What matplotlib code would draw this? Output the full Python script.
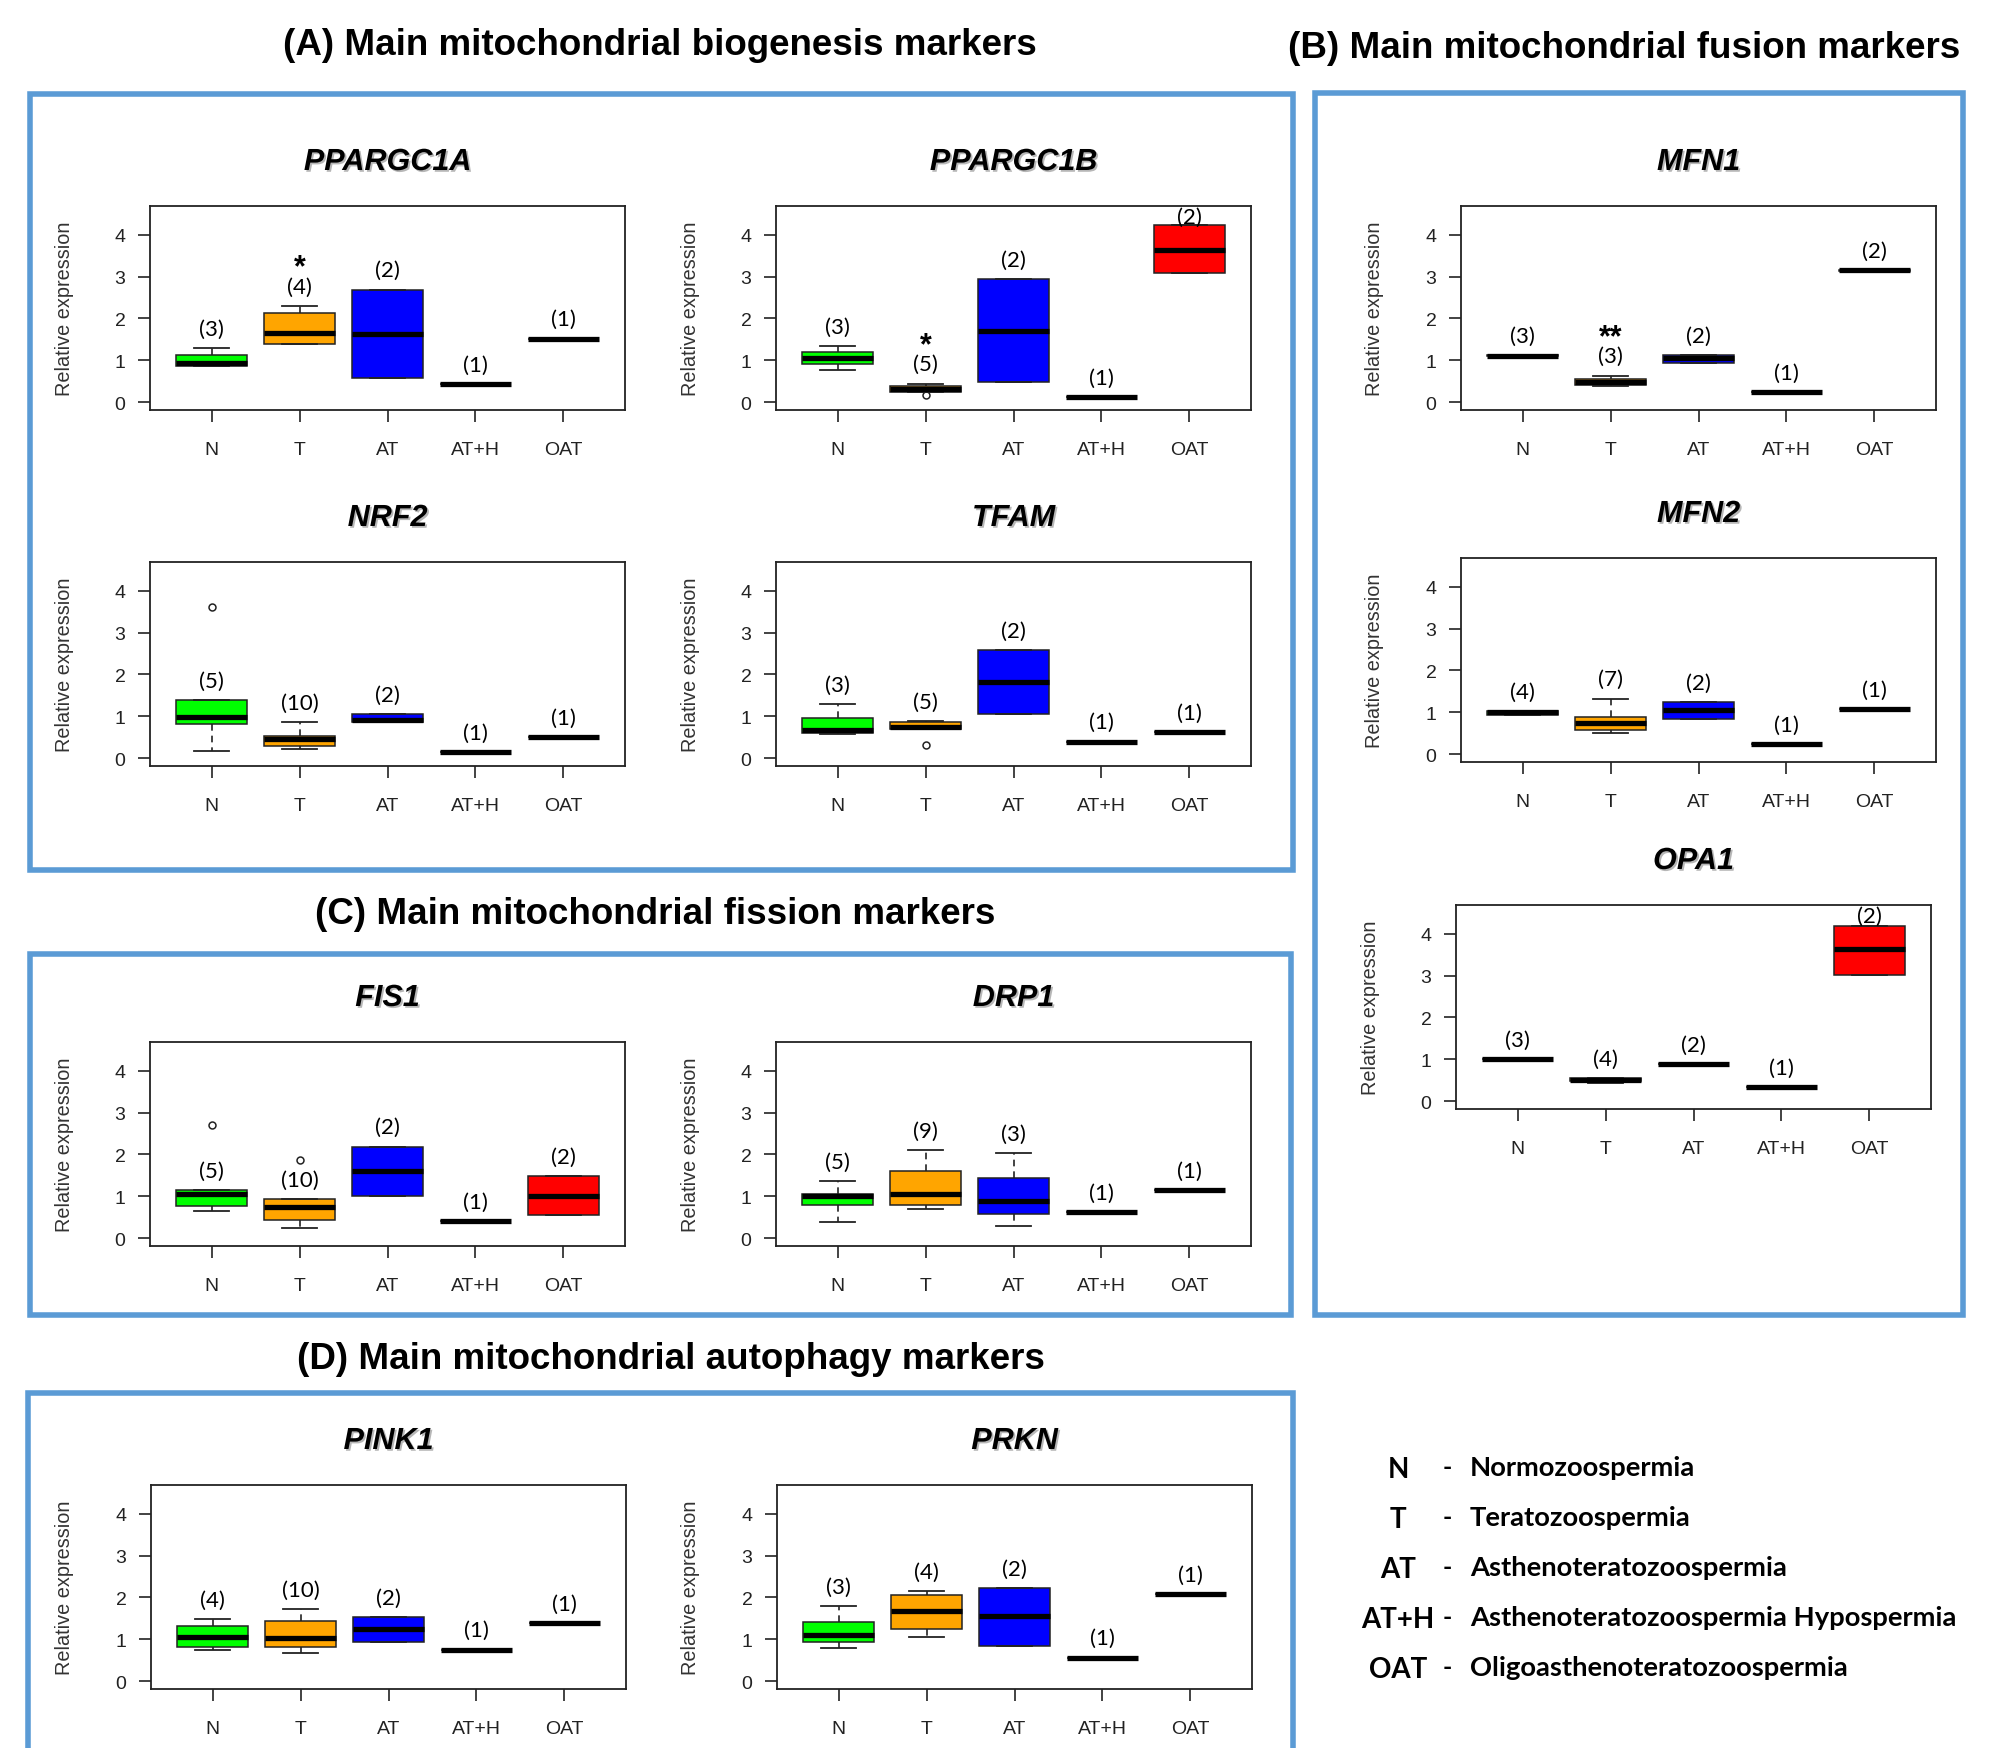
import matplotlib
matplotlib.use("Agg")
import matplotlib.pyplot as plt
from matplotlib.patches import Rectangle
import matplotlib.patheffects as pe

plt.rcParams['font.family'] = ['Liberation Sans', 'DejaVu Sans']

W, H, DPI = 2009, 1749, 100

# ---------------- data ----------------
GROUPS = ["N", "T", "AT", "AT+H", "OAT"]
GROUP_NAMES = ["Normozoospermia", "Teratozoospermia", "Asthenoteratozoospermia",
               "Asthenoteratozoospermia Hypospermia", "Oligoasthenoteratozoospermia"]
COLORS = ["#00FF00", "#FFA500", "#0000FF", "#FFFFFF", "#FF0000"]

# (whisker low, Q1, median, Q3, whisker high) per group
PPARGC1A = [(0.87, 0.88, 0.93, 1.12, 1.29), (1.40, 1.40, 1.66, 2.12, 2.30),
            (0.59, 0.59, 1.64, 2.69, 2.69), (0.44, 0.44, 0.44, 0.44, 0.44),
            (1.52, 1.52, 1.52, 1.52, 1.52)]
PPARGC1B = [(0.78, 0.92, 1.07, 1.19, 1.34), (0.24, 0.24, 0.32, 0.38, 0.45),
            (0.48, 0.48, 1.71, 2.93, 2.93), (0.12, 0.12, 0.12, 0.12, 0.12),
            (3.08, 3.08, 3.63, 4.23, 4.23)]
MFN1 = [(1.10, 1.10, 1.11, 1.12, 1.12), (0.40, 0.42, 0.49, 0.56, 0.64),
        (0.93, 0.93, 1.05, 1.12, 1.12), (0.255, 0.255, 0.255, 0.255, 0.255),
        (3.14, 3.14, 3.15, 3.16, 3.16)]
NRF2 = [(0.18, 0.82, 0.98, 1.40, 1.40), (0.23, 0.30, 0.47, 0.54, 0.86),
        (0.86, 0.86, 0.915, 1.06, 1.06), (0.16, 0.16, 0.16, 0.16, 0.16),
        (0.50, 0.50, 0.50, 0.50, 0.50)]
TFAM = [(0.59, 0.61, 0.68, 0.97, 1.30), (0.71, 0.71, 0.755, 0.867, 0.89),
        (1.07, 1.07, 1.83, 2.58, 2.58), (0.40, 0.40, 0.40, 0.40, 0.40),
        (0.63, 0.63, 0.63, 0.63, 0.63)]
MFN2 = [(0.93, 0.95, 1.00, 1.04, 1.04), (0.51, 0.587, 0.738, 0.889, 1.33),
        (0.84, 0.84, 1.047, 1.238, 1.238), (0.254, 0.254, 0.254, 0.254, 0.254),
        (1.08, 1.08, 1.08, 1.08, 1.08)]
OPA1 = [(1.01, 1.01, 1.01, 1.01, 1.01), (0.44, 0.48, 0.52, 0.56, 0.56),
        (0.89, 0.89, 0.89, 0.89, 0.89), (0.337, 0.337, 0.337, 0.337, 0.337),
        (3.02, 3.02, 3.62, 4.18, 4.18)]
FIS1 = [(0.644, 0.78, 1.05, 1.16, 1.16), (0.26, 0.445, 0.755, 0.938, 0.938),
        (1.00, 1.00, 1.61, 2.19, 2.19), (0.41, 0.41, 0.41, 0.41, 0.41),
        (0.557, 0.557, 1.00, 1.495, 1.495)]
DRP1 = [(0.40, 0.806, 1.006, 1.07, 1.37), (0.70, 0.806, 1.07, 1.60, 2.11),
        (0.287, 0.575, 0.894, 1.44, 2.04), (0.62, 0.62, 0.62, 0.62, 0.62),
        (1.15, 1.15, 1.15, 1.15, 1.15)]
PINK1 = [(0.76, 0.83, 1.05, 1.31, 1.49), (0.68, 0.83, 1.046, 1.43, 1.72),
         (0.934, 0.934, 1.245, 1.53, 1.53), (0.76, 0.76, 0.76, 0.76, 0.76),
         (1.39, 1.39, 1.39, 1.39, 1.39)]
PRKN = [(0.79, 0.93, 1.10, 1.42, 1.79), (1.06, 1.26, 1.69, 2.05, 2.16),
        (0.85, 0.85, 1.57, 2.23, 2.23), (0.57, 0.57, 0.57, 0.57, 0.57),
        (2.09, 2.09, 2.09, 2.09, 2.09)]

# outliers: group index -> values
PPARGC1B_OUT = {1: [0.175]}
NRF2_OUT = {0: [3.60]}
TFAM_OUT = {1: [0.33]}
FIS1_OUT = {0: [2.71], 1: [1.87]}

# sample sizes per group
PPARGC1A_N = [3, 4, 2, 1, 1]
PPARGC1B_N = [3, 5, 2, 1, 2]
MFN1_N = [3, 3, 2, 1, 2]
NRF2_N = [5, 10, 2, 1, 1]
TFAM_N = [3, 5, 2, 1, 1]
MFN2_N = [4, 7, 2, 1, 1]
OPA1_N = [3, 4, 2, 1, 2]
FIS1_N = [5, 10, 2, 1, 2]
DRP1_N = [5, 9, 3, 1, 1]
PINK1_N = [4, 10, 2, 1, 1]
PRKN_N = [3, 4, 2, 1, 1]

# significance marks: group index -> mark
PPARGC1A_SIG = {1: "*"}
PPARGC1B_SIG = {1: "*"}
MFN1_SIG = {1: "**"}

YTICKS = [0, 1, 2, 3, 4]

SECTION_TITLES = ["(A) Main mitochondrial biogenesis markers",
                  "(B) Main mitochondrial fusion markers",
                  "(C) Main mitochondrial fission markers",
                  "(D) Main mitochondrial autophagy markers"]

# ---------------- layout (pixels) ----------------
AX_W, AX_H = 475, 204
PANELS = [
    ("PPARGC1A", PPARGC1A, PPARGC1A_N, {}, PPARGC1A_SIG, 150, 207),
    ("PPARGC1B", PPARGC1B, PPARGC1B_N, PPARGC1B_OUT, PPARGC1B_SIG, 776, 207),
    ("MFN1", MFN1, MFN1_N, {}, MFN1_SIG, 1461, 207),
    ("NRF2", NRF2, NRF2_N, NRF2_OUT, {}, 150, 563),
    ("TFAM", TFAM, TFAM_N, TFAM_OUT, {}, 776, 563),
    ("MFN2", MFN2, MFN2_N, {}, {}, 1461, 559),
    ("OPA1", OPA1, OPA1_N, {}, {}, 1456, 906),
    ("FIS1", FIS1, FIS1_N, FIS1_OUT, {}, 150, 1043),
    ("DRP1", DRP1, DRP1_N, {}, {}, 776, 1043),
    ("PINK1", PINK1, PINK1_N, {}, {}, 151, 1486),
    ("PRKN", PRKN, PRKN_N, {}, {}, 777, 1486),
]
FRAMES = [(30, 95, 1293, 871), (1315, 94, 1963, 1316),
          (30, 955, 1291, 1316), (28, 1394, 1293, 1800)]
TITLE_POS = [(660, 55), (1624, 58), (655, 924), (671, 1369)]
FRAME_COLOR = "#5B9BD5"
INK = "#222222"

fig = plt.figure(figsize=(W / DPI, H / DPI), dpi=DPI)


def fx(x):
    return x / W


def fy(y):
    return 1 - y / H


for name, stats, counts, fliers, sig, left, top in PANELS:
    ax = fig.add_axes([fx(left), fy(top + AX_H), AX_W / W, AX_H / H])
    bstats = []
    for i, (lo, q1, med, q3, hi) in enumerate(stats):
        bstats.append(dict(whislo=lo, q1=q1, med=med, q3=q3, whishi=hi,
                           fliers=fliers.get(i, [])))
    res = ax.bxp(bstats, positions=range(1, 6), widths=0.8, capwidths=0.4,
                 patch_artist=True, showfliers=True,
                 boxprops=dict(edgecolor=INK, linewidth=1.1),
                 medianprops=dict(color="black", linewidth=3.8, solid_capstyle="butt"),
                 whiskerprops=dict(color=INK, linewidth=1.2, linestyle=(0, (4, 3))),
                 capprops=dict(color=INK, linewidth=1.3),
                 flierprops=dict(marker="o", markerfacecolor="none", markeredgecolor=INK,
                                 markersize=5, markeredgewidth=1.1))
    for patch, c in zip(res["boxes"], COLORS):
        patch.set_facecolor(c)
    ax.set_xlim(0.3, 5.7)
    ax.set_ylim(-0.18, 4.68)
    ax.set_yticks(YTICKS)
    ax.set_yticklabels([str(t) for t in YTICKS])
    ax.set_xticks(range(1, 6))
    ax.set_xticklabels(GROUPS)
    ax.tick_params(axis="both", direction="out", length=8.6, width=1.2, colors=INK,
                   labelsize=14)
    ax.tick_params(axis="y", pad=9)
    ax.tick_params(axis="x", pad=13.5)
    for sp in ax.spines.values():
        sp.set_linewidth(1.3)
        sp.set_color(INK)
    # sample size labels
    for i, (s, n) in enumerate(zip(stats, counts)):
        ly = min(s[4] + 0.46, 4.42)
        ax.text(i + 1, ly, f"({n})", ha="center", va="center", fontsize=16,
                family=["Lato", "DejaVu Sans"], color="black")
        if i in sig:
            ax.text(i + 1, ly + 0.26, sig[i], ha="center", va="baseline", fontsize=22,
                    fontweight="bold", color="black")
    # y label and title
    fig.text(fx(left - 86), fy(top + AX_H / 2), "Relative expression", rotation=90,
             ha="center", va="center", fontsize=14.3, color="#333333")
    fig.text(fx(left + AX_W / 2), fy(top - 36), name, ha="center", va="baseline",
             fontsize=22, fontweight="bold", fontstyle="italic", color="black",
             path_effects=[pe.withSimplePatchShadow(offset=(1.3, -1.3),
                                                    shadow_rgbFace="#999999", alpha=0.7)])

for (x0, y0, x1, y1) in FRAMES:
    fig.add_artist(Rectangle((fx(x0), fy(y1)), (x1 - x0) / W, (y1 - y0) / H,
                             transform=fig.transFigure, fill=False,
                             edgecolor=FRAME_COLOR, linewidth=4))

for t, (cx, by) in zip(SECTION_TITLES, TITLE_POS):
    fig.text(fx(cx), fy(by), t, ha="center", va="baseline", fontsize=26.5,
             fontweight="bold", color="black")

# legend of abbreviations
for k, (ab, full) in enumerate(zip(GROUPS, GROUP_NAMES)):
    by = 1478 + 50 * k
    fig.text(fx(1398), fy(by), ab, ha="center", va="baseline", fontsize=20,
             fontweight="bold", family=["Lato", "DejaVu Sans"], color="black")
    fig.text(fx(1447), fy(by - 3), "-", ha="center", va="baseline", fontsize=18,
             fontweight="bold", family=["Lato", "DejaVu Sans"], color="black")
    fig.text(fx(1470), fy(by - 2), full, ha="left", va="baseline", fontsize=19.7,
             fontweight="bold", family=["Lato", "DejaVu Sans"], color="black")

fig.savefig("out.png", dpi=DPI)
